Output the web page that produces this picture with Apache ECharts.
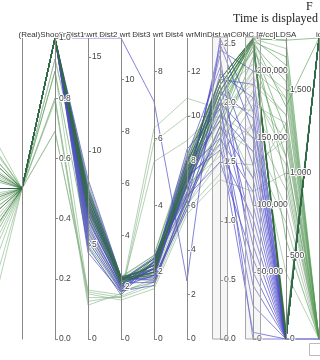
<!DOCTYPE html>
<html><head><meta charset="utf-8">
<script src="https://cdn.jsdelivr.net/npm/echarts@6/dist/echarts.min.js"></script>
<style>html,body{margin:0;padding:0;background:#fff}#c{width:320px;height:360px}</style>
</head><body><div id="c"></div>
<script>
// ---- data (one entry per line) ----
const lineGroup = [
  'g','g','g','g','g','g',
  'l','l','l','l','l','l','l','l','l','l','l','l',
  'm','m','m','m','m','m','m','m','m','m',
  'd','d','d','d','d','d','d',
  'b','b','b','b','b','b','b','b','b','b','b','b','b','b','b','b','b','b','b','b','b'
];
const prevAxis = [0.45,0.55,0.38,0.60,0.50,0.42,
  0.70,0.25,0.62,0.05,0.20,0.65,0.48,0.33,0.58,0.40,0.12,0.28,
  0.44,0.56,0.36,0.62,0.47,0.53,0.31,0.66,0.42,0.50,
  0.46,0.54,0.40,0.60,0.34,0.50,0.57,
  0.5,0.5,0.5,0.5,0.5,0.5,0.5,0.5,0.5,0.5,0.5,0.5,0.5,0.5,0.5,0.5,0.5,0.5,0.5,0.5,0.5];
const timeAxis = new Array(56).fill(0.5);
const shootTime = [1,1,1,0.93,1,1,
  0.69,0.8,0.79,0.89,0.8,1,1,0.93,1,1,1,0.69,
  1,1,1,1,1,1,0.89,1,1,1,
  1,1,1,1,1,1,1,
  1,1,1,1,1,1,1,1,1,1,1,1,1,1,1,1,1,1,1,1,1];
const dist1 = [6.5,7.0,5.8,7.5,6.2,5.5,
  2.6,2.2,1.8,2.4,2.0,6.8,5.2,7.2,4.8,7.8,6.0,2.5,
  7.0,6.4,7.6,5.6,6.9,7.3,5.0,8.3,6.6,7.1,
  7.4,7.0,7.8,6.7,8.0,7.2,7.6,
  16,6.3,7.1,5.4,7.9,6.6,5.9,7.4,6.9,4.6,8.5,6.1,7.3,5.7,7.6,6.8,4.9,8.1,6.4,7.7,5.2];
const dist2 = [2.2,2.3,2.0,2.4,2.25,1.9,
  1.7,1.6,1.75,1.5,1.65,2.2,1.9,2.3,1.8,2.35,2.0,1.6,
  2.25,2.1,2.3,2.0,2.2,2.35,1.85,2.4,2.05,2.25,
  2.2,2.3,2.35,2.1,2.4,2.2,2.3,
  11.6,2.1,2.3,1.9,2.35,2.25,2.05,2.3,2.15,1.8,2.4,2.0,2.3,1.95,2.25,2.35,1.7,2.4,2.1,2.3,1.85];
const dist3 = [2.2,1.9,2.4,1.7,2.1,2.3,
  6.3,5.9,5.3,1.5,1.7,2.2,2.0,2.4,1.8,2.5,1.9,1.6,
  2.1,2.3,1.9,2.4,2.0,2.2,1.7,2.5,2.1,2.3,
  2.0,2.2,1.9,2.3,2.1,2.4,2.0,
  7.1,2.1,1.8,2.3,2.0,2.4,1.9,2.2,1.7,2.35,2.05,2.25,1.85,2.15,2.45,1.95,2.3,1.75,2.1,2.2,1.6];
const dist4 = [7.0,6.4,7.5,6.0,7.2,8.0,
  10.8,10.0,8.9,5.6,6.0,7.3,6.6,7.9,6.2,8.3,6.9,5.8,
  7.3,6.9,7.7,6.5,7.4,7.0,6.2,8.1,7.1,7.5,
  7.5,7.2,7.8,6.9,8.0,7.3,7.6,
  2.6,6.8,7.4,6.2,7.9,6.6,7.1,8.2,6.0,7.6,6.9,7.3,5.8,8.5,6.4,7.0,7.7,6.3,7.2,8.0,6.5];
const minDist = [1.85,1.7,2.0,1.6,2.1,1.9,
  1.95,1.88,1.95,1.35,1.5,1.75,1.65,2.05,1.8,2.15,1.55,1.4,
  2.0,1.9,2.1,1.8,2.05,1.95,1.7,2.2,2.0,1.85,
  2.15,2.1,2.2,2.05,2.2,2.1,2.15,
  2.55,2.45,2.2,2.25,2.1,2.0,1.9,2.3,1.8,1.7,2.15,1.6,2.05,1.95,1.5,2.4,1.85,1.75,1.65,2.0,2.5];
const conc = [195000,180000,170000,160000,205000,150000,
  120000,200000,190000,110000,130000,200000,185000,215000,140000,224000,175000,160000,
  224000,222000,224000,220000,223000,218000,210000,224000,215000,224000,
  224000,223000,224500,221000,224000,222000,224000,
  170000,200000,190000,180000,165000,150000,140000,130000,120000,110000,100000,90000,80000,70000,60000,50000,40000,25000,5000,0,155000];
const ldsa = [1350,1200,1050,900,1500,800,
  1300,1450,1350,1000,1200,1600,1100,1450,700,1750,1300,400,
  1800,1700,1650,1550,1400,1250,1100,950,600,1800,
  30,0,60,10,0,20,0,
  0,0,0,0,0,0,0,0,0,0,0,0,0,0,0,0,0,0,0,0,0];
const idVals = [0,0,0,0,0,0,
  0,0,0,0,0,0,0,0,0,0,0,0,
  0,0,0,0,2,0,0,0,0,2,
  2,2,2,2,2,2,2,
  2,2,2,2,2,2,2,2,2,2,2,2,2,2,2,2,2,2,0,0,2];

// axes
const axisNames = ['', '', '(Real)Shooting Time', 'Dist1 wrt ST', 'Dist2 wrt ST', 'Dist3 wrt ST', 'Dist4 wrt ST', 'MinDist wrt ST', 'CONC [#/cc]', 'LDSA', 'id'];
const axisMax = [1, 1, 1, 16, 11.6, 9, 13.5, 2.55, 224600, 1813, 2];
const rstTicks = [0, 0.2, 0.4, 0.6, 0.8, 1.0];
const dist1Ticks = [0, 5, 10, 15];
const dist2Ticks = [0, 2, 4, 6, 8, 10];
const dist3Ticks = [0, 2, 4, 6, 8];
const dist4Ticks = [0, 2, 4, 6, 8, 10, 12];
const minDistTicks = [0, 0.5, 1, 1.5, 2, 2.5];
const concTicks = [0, 50000, 100000, 150000, 200000];
const ldsaTicks = [0, 500, 1000, 1500];
const idTicks = [0, 0.5, 1, 1.5, 2];
const axisTicks = [[], [], rstTicks, dist1Ticks, dist2Ticks, dist3Ticks, dist4Ticks, minDistTicks, concTicks, ldsaTicks, idTicks];
const axisFmt = ['int','int','f1','int','int','int','int','f1','comma','comma','f1'];
const brushedAxes = [7, 8];

const groupDefs = [
  {key:'g', color:'#8f9a8f', op:0.55},
  {key:'l', color:'#86b486', op:0.6},
  {key:'m', color:'#4f9a4f', op:0.6},
  {key:'b', color:'#4b48c8', op:0.68},
  {key:'d', color:'#2f6e3a', op:0.75}
];

const cols = [prevAxis, timeAxis, shootTime, dist1, dist2, dist3, dist4, minDist, conc, ldsa, idVals];
const rows = lineGroup.map((g, i) => ({g, v: cols.map(c => c[i])}));

function fmt(kind) {
  if (kind === 'f1') return v => Number(v).toFixed(1);
  if (kind === 'comma') return v => Number(v).toLocaleString('en-US');
  return v => String(v);
}

const W = 320, H = 360;
const parLeft = -11, parRight = 1, parTop = 38, parBottom = 21;
const step = (W - parLeft - parRight) / (axisNames.length - 1);
const brushRects = brushedAxes.map(i => ({
  type: 'rect', z: 100, silent: true,
  shape: {x: parLeft + i * step - 7.5, y: parTop - 1, width: 15, height: H - parTop - parBottom + 1},
  style: {fill: 'rgba(215,215,215,0.22)', stroke: '#a8a8a8', lineWidth: 1}
}));
const FONT = 'Liberation Sans, Arial, sans-serif';

const chart = echarts.init(document.getElementById('c'), null, {renderer: 'canvas'});
chart.setOption({
  animation: false,
  backgroundColor: '#fff',
  title: [
    {text: 'F', left: 306, top: 1, padding: 0, textStyle: {fontFamily: 'Liberation Serif, serif', fontSize: 12, fontWeight: 'normal', color: '#222'}},
    {text: 'Time is displayed', left: 233, top: 13, padding: 0, textStyle: {fontFamily: 'Liberation Serif, serif', fontSize: 12, fontWeight: 'normal', color: '#222'}}
  ],
  parallel: {left: parLeft, right: parRight, top: parTop, bottom: parBottom, layout: 'horizontal'},
  parallelAxis: axisNames.map((name, i) => ({
    dim: i, id: 'ax' + i, name, type: 'value', min: 0, max: axisMax[i],
    nameLocation: 'end', nameGap: -1, nameMoveOverlap: false,
    nameTruncate: {maxWidth: 400},
    nameTextStyle: {fontSize: 8, color: '#333', fontFamily: FONT, textBorderColor: '#fff', textBorderWidth: 2},
    axisLine: {lineStyle: {color: '#888', width: 1}},
    axisTick: {show: axisTicks[i].length > 0, inside: true, customValues: axisTicks[i], length: 3, lineStyle: {color: '#888'}},
    axisLabel: {show: axisTicks[i].length > 0, inside: true, customValues: axisTicks[i], formatter: fmt(axisFmt[i]), fontSize: 8.5, color: '#444', margin: 4, fontFamily: FONT, textBorderColor: '#fff', textBorderWidth: 2},
    splitLine: {show: false}
  })),
  graphic: brushRects.concat([{type: 'rect', right: -4, bottom: 4, shape: {width: 14, height: 12}, style: {fill: '#fff', stroke: '#bbb'}}]),
  series: groupDefs.map(gd => ({
    type: 'parallel', name: gd.key, silent: true,
    lineStyle: {color: gd.color, width: 1, opacity: gd.op},
    data: rows.filter(r => r.g === gd.key).map(r => r.v)
  }))
});
</script></body></html>
